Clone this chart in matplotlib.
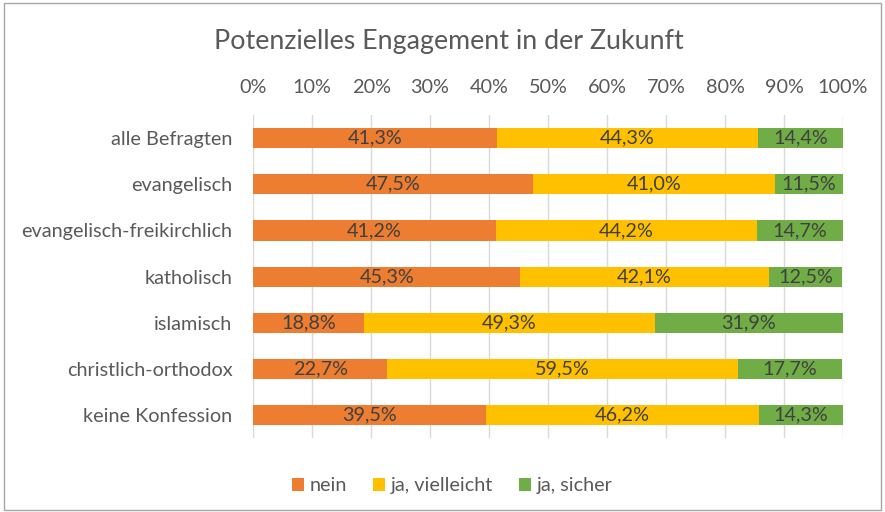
import matplotlib.pyplot as plt
import numpy as np

categories = ["alle Befragten", "evangelisch", "evangelisch-freikirchlich",
              "katholisch", "islamisch", "christlich-orthodox", "keine Konfession"]
nein = [41.3, 47.5, 41.2, 45.3, 18.8, 22.7, 39.5]
vielleicht = [44.3, 41.0, 44.2, 42.1, 49.3, 59.5, 46.2]
sicher = [14.4, 11.5, 14.7, 12.5, 31.9, 17.7, 14.3]
series_names = ["nein", "ja, vielleicht", "ja, sicher"]
colors = ["#ED7D31", "#FFC000", "#70AD47"]

plt.rcParams['font.family'] = ['Lato', 'DejaVu Sans']
txt = "#595959"
fs = 14.3

fig = plt.figure(figsize=(8.85, 5.12), dpi=100, facecolor='white')
ax = fig.add_axes([0.286, 0.1445, 0.6665, 0.6305])

y = np.arange(len(categories))
left = np.zeros(len(categories))
for vals, name, col in zip([nein, vielleicht, sicher], series_names, colors):
    vals = np.array(vals)
    ax.barh(y, vals, left=left, height=0.435, color=col, label=name, zorder=3)
    for yi, l, v in zip(y, left, vals):
        ax.text(l + v / 2, yi, ("%.1f%%" % v).replace(".", ","), ha='center', va='center',
                fontsize=fs, color="#404040", zorder=4)
    left += vals

ax.set_xlim(0, 100)
ax.set_ylim(len(categories) - 0.5, -0.5)
ax.set_xticks(np.arange(0, 101, 10))
ax.set_xticklabels(["%d%%" % v for v in range(0, 101, 10)])
ax.xaxis.tick_top()
ax.tick_params(axis='x', length=0, pad=14, labelsize=fs, labelcolor=txt)
ax.set_yticks(y)
ax.set_yticklabels(categories)
ax.tick_params(axis='y', length=0, pad=15, labelsize=fs, labelcolor=txt)
ax.grid(axis='x', color='#D9D9D9', linewidth=1, zorder=0)
for s in ax.spines.values():
    s.set_visible(False)

fig.text(0.507, 0.918, "Potenzielles Engagement in der Zukunft", ha='center', va='center',
         fontsize=19.3, color=txt)

fig.legend(loc='center', bbox_to_anchor=(0.511, 0.051), ncol=3, frameon=False,
           fontsize=fs, labelcolor=txt, handlelength=0.6, handleheight=0.6,
           handletextpad=0.3, columnspacing=1.3)

border = plt.Rectangle((0.004, 0.004), 0.992, 0.99, transform=fig.transFigure,
                       fill=False, edgecolor='#A6A6A6', linewidth=1)
fig.patches.append(border)

fig.savefig("out.png", dpi=100, facecolor='white')
